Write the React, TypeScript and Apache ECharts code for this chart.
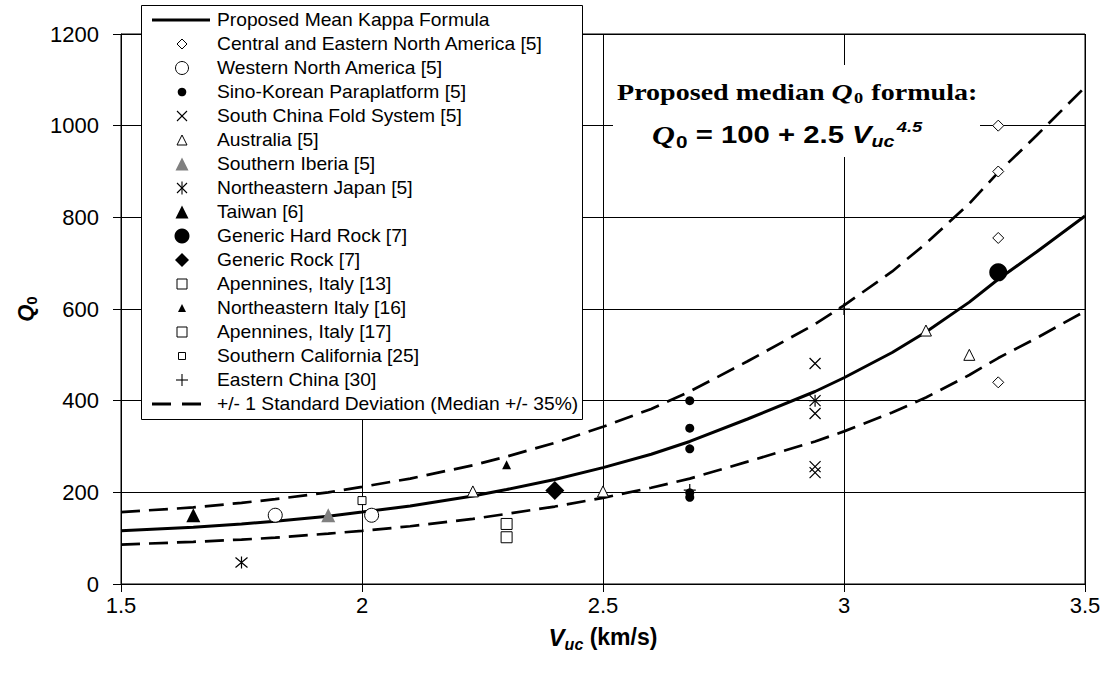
import React, { useEffect, useRef } from "react";
import * as echarts from "echarts";

// ---- data ----
const meanV = [1.5, 1.65, 1.75, 1.82, 1.93, 2.0, 2.1, 2.23, 2.3, 2.4, 2.5, 2.6, 2.68, 2.8, 2.94, 3.0, 3.1, 3.17, 3.26, 3.32, 3.4, 3.5];
const meanQ = [116, 124, 131, 137, 148, 157, 170, 192, 206, 228, 254, 283, 311, 360, 420, 450, 505, 550, 615, 665, 725, 803];
const upperQ = [157, 167, 177, 185, 200, 212, 230, 259, 278, 308, 343, 382, 420, 486, 567, 608, 682, 743, 830, 898, 979, 1084];
const lowerQ = [86, 92, 97, 101, 110, 116, 126, 142, 153, 169, 188, 210, 230, 267, 311, 333, 374, 407, 456, 493, 537, 595];

const cenaPts = [[3.32, 1000], [3.32, 900], [3.32, 755], [3.32, 440]];
const wnaPts = [[1.82, 150], [2.02, 150]];
const sinoKoreanPts = [[2.68, 400], [2.68, 340], [2.68, 295], [2.68, 199], [2.68, 189]];
const southChinaPts = [[2.94, 481], [2.94, 400], [2.94, 372], [2.94, 256], [2.94, 243]];
const australiaPts = [[2.23, 202], [2.5, 202], [3.17, 553], [3.26, 500]];
const iberiaPts = [[1.93, 150]];
const neJapanPts = [[1.75, 47]];
const taiwanPts = [[1.65, 150]];
const hardRockPts = [[3.32, 680]];
const genericRockPts = [[2.4, 204]];
const apennines13Pts = [[2.3, 131]];
const neItalyPts = [[2.3, 260]];
const apennines17Pts = [[2.3, 102]];
const soCalPts = [[2.0, 182]];
const eastChinaPts = [[2.68, 205], [2.94, 400], [3.0, 600]];

const xTickMin = 1.5;
const xTickMax = 3.5;
const yTickMax = 1200;

const N_MEAN = "Proposed Mean Kappa Formula";
const N_SD = "+/- 1 Standard Deviation (Median +/- 35%)";
const legendNames = [
  N_MEAN,
  "Central and Eastern North America [5]",
  "Western North America [5]",
  "Sino-Korean Paraplatform [5]",
  "South China Fold System [5]",
  "Australia [5]",
  "Southern Iberia [5]",
  "Northeastern Japan [5]",
  "Taiwan [6]",
  "Generic Hard Rock [7]",
  "Generic Rock [7]",
  "Apennines, Italy [13]",
  "Northeastern Italy [16]",
  "Apennines, Italy [17]",
  "Southern California [25]",
  "Eastern China [30]",
  N_SD,
];
// legend marker kind for each entry
const legendKinds = [
  "line", "diamondO", "circleO", "dot", "x", "triO", "triGray", "ast", "triBig",
  "circleBig", "diamondBig", "square", "triSmall", "square", "squareSmall", "plus", "dash",
];

const X_PATH = "path://M0,0L10,10M10,0L0,10";
const PLUS_PATH = "path://M5,0L5,10M0,5L10,5";
const AST_PATH = "path://M0,0L10,10M10,0L0,10M5,-1L5,11";

const SANS = "'Liberation Sans', Arial, sans-serif";
const SERIF = "'Liberation Serif', 'Times New Roman', serif";

function pairs(vs: number[], qs: number[]) {
  return vs.map((v, i) => [v, qs[i]]);
}

const hollow = { color: "#fff", borderColor: "#000", borderWidth: 1, opacity: 1 };
const solid = { color: "#000", opacity: 1 };
const strokeOnly = { color: "rgba(0,0,0,0)", borderColor: "#000", borderWidth: 1.2, opacity: 1 };

function scatter(name: string, data: number[][], symbol: string, size: number, itemStyle: any) {
  return { name, type: "scatter", data, symbol, symbolSize: size, itemStyle, z: 4 };
}

const LZ = 20;

function legendMarker(kind: string, cx: number, cy: number): any[] {
  const blk = { stroke: "#000", lineWidth: 1, fill: "#fff" };
  const fillBlk = { fill: "#000", stroke: null };
  const tri = (h: number, style: any) => ({
    type: "polygon",
    z: LZ + 1,
    shape: { points: [[cx, cy - h / 2], [cx + h / 2, cy + h / 2], [cx - h / 2, cy + h / 2]] },
    style,
  });
  const dia = (h: number, style: any) => ({
    type: "polygon",
    z: LZ + 1,
    shape: { points: [[cx, cy - h], [cx + h, cy], [cx, cy + h], [cx - h, cy]] },
    style,
  });
  const ln = (x1: number, y1: number, x2: number, y2: number, w: number) => ({
    type: "line",
    z: LZ + 1,
    shape: { x1, y1, x2, y2 },
    style: { stroke: "#000", lineWidth: w },
  });
  switch (kind) {
    case "line":
      return [ln(152, cy, 210, cy, 3)];
    case "dash":
      return [ln(152, cy, 171, cy, 3), ln(182, cy, 201, cy, 3)];
    case "diamondO":
      return [dia(5, blk)];
    case "circleO":
      return [{ type: "circle", z: LZ + 1, shape: { cx, cy, r: 6.5 }, style: blk }];
    case "dot":
      return [{ type: "circle", z: LZ + 1, shape: { cx, cy, r: 4.3 }, style: fillBlk }];
    case "x":
      return [ln(cx - 5, cy - 5, cx + 5, cy + 5, 1.1), ln(cx + 5, cy - 5, cx - 5, cy + 5, 1.1)];
    case "ast":
      return [
        ln(cx - 5, cy - 5, cx + 5, cy + 5, 1.1),
        ln(cx + 5, cy - 5, cx - 5, cy + 5, 1.1),
        ln(cx, cy - 6.5, cx, cy + 6.5, 1.1),
      ];
    case "plus":
      return [ln(cx - 6, cy, cx + 6, cy, 1.1), ln(cx, cy - 6, cx, cy + 6, 1.1)];
    case "triO":
      return [tri(10, blk)];
    case "triGray":
      return [tri(13, { fill: "#808080", stroke: null })];
    case "triBig":
      return [tri(13, fillBlk)];
    case "triSmall":
      return [tri(8, fillBlk)];
    case "circleBig":
      return [{ type: "circle", z: LZ + 1, shape: { cx, cy, r: 7.5 }, style: fillBlk }];
    case "diamondBig":
      return [dia(7, fillBlk)];
    case "square":
      return [{ type: "rect", z: LZ + 1, shape: { x: cx - 5, y: cy - 5, width: 10, height: 10 }, style: blk }];
    case "squareSmall":
      return [{ type: "rect", z: LZ + 1, shape: { x: cx - 3.5, y: cy - 3.5, width: 7, height: 7 }, style: blk }];
  }
  return [];
}

function buildLegend(): any[] {
  const left = 141;
  const top = 5;
  const width = 441;
  const height = 414;
  const rowStart = 20;
  const rowStep = 24;
  const cx = 182;
  const els: any[] = [
    {
      type: "rect",
      z: LZ,
      shape: { x: left + 0.5, y: top + 0.5, width, height },
      style: { fill: "#fff", stroke: "#000", lineWidth: 1 },
    },
  ];
  legendNames.forEach((name, i) => {
    const cy = rowStart + i * rowStep;
    legendMarker(legendKinds[i], cx, cy).forEach((el) => els.push(el));
    els.push({
      type: "text",
      z: LZ + 1,
      x: 217,
      y: cy,
      scaleX: 1.1,
      style: {
        text: name,
        fontFamily: SANS,
        fontSize: 17.5,
        fill: "#000",
        verticalAlign: "middle",
        align: "left",
      },
    });
  });
  return els;
}

export default function App() {
  const ref = useRef<HTMLDivElement>(null);
  useEffect(() => {
    if (!ref.current) return;
    const chart = echarts.init(ref.current, null, { renderer: "svg" });
    const option: any = {
      animation: false,
      backgroundColor: "#fff",
      grid: { left: 121, top: 34, right: 24, bottom: 91, show: true, borderColor: "#000", borderWidth: 1 },
      xAxis: {
        type: "value",
        min: xTickMin,
        max: xTickMax,
        interval: 0.5,
        axisLine: { show: true, onZero: false, lineStyle: { color: "#000", width: 1 } },
        axisTick: { show: true, inside: false, length: 8, lineStyle: { color: "#000" } },
        axisLabel: { color: "#000", fontFamily: SANS, fontSize: 22, margin: 10 },
        splitLine: { show: true, lineStyle: { color: "#000", width: 1 } },
        name: "{v|V}{s|uc}{t| (km/s)}",
        nameLocation: "middle",
        nameGap: 40,
        nameTextStyle: {
          color: "#000",
          rich: {
            v: { fontFamily: SANS, fontSize: 24, fontWeight: "bold", fontStyle: "italic", color: "#000", lineHeight: 26 },
            s: { fontFamily: SANS, fontSize: 16, fontWeight: "bold", fontStyle: "italic", color: "#000", lineHeight: 16, padding: [14, 0, 0, 0] },
            t: { fontFamily: SANS, fontSize: 23, fontWeight: "bold", color: "#000", lineHeight: 26 },
          },
        },
      },
      yAxis: {
        type: "value",
        min: 0,
        max: yTickMax,
        interval: 200,
        axisLine: { show: true, lineStyle: { color: "#000", width: 1 } },
        axisTick: { show: true, inside: false, length: 8, lineStyle: { color: "#000" } },
        axisLabel: {
          color: "#000",
          fontFamily: SANS,
          fontSize: 22,
          margin: 22,
          formatter: (v: number) => String(v),
        },
        splitLine: { show: true, lineStyle: { color: "#000", width: 1 } },
        name: "{q|Q}{s|0}",
        nameLocation: "middle",
        nameGap: 69,
        nameTextStyle: {
          color: "#000",
          rich: {
            q: { fontFamily: SANS, fontSize: 22, fontWeight: "bold", fontStyle: "italic", color: "#000", lineHeight: 24 },
            s: { fontFamily: SANS, fontSize: 15, fontWeight: "bold", color: "#000", lineHeight: 15, padding: [12, 0, 0, 0] },
          },
        },
      },
      graphic: [
        { type: "rect", z: 5, shape: { x: 613, y: 65, width: 367, height: 92 }, style: { fill: "#fff" } },
        {
          type: "text",
          z: 6,
          x: 617,
          y: 92,
          scaleX: 1.22,
          style: {
            text: "{a|Proposed median }{q|Q}{s|0}{a| formula:}",
            verticalAlign: "middle",
            fill: "#000",
            rich: {
              a: { fontFamily: SERIF, fontSize: 23, fontWeight: "bold", fill: "#000", lineHeight: 26 },
              q: { fontFamily: SERIF, fontSize: 24, fontWeight: "bold", fontStyle: "italic", fill: "#000", lineHeight: 26 },
              s: { fontFamily: SERIF, fontSize: 15, fontWeight: "bold", fill: "#000", lineHeight: 15, padding: [12, 1, 0, 1] },
            },
          },
        },
        {
          type: "text",
          z: 6,
          x: 652,
          y: 135,
          scaleX: 1.22,
          style: {
            text: "{q|Q}{s|0}{t| = 100 + 2.5 }{v|V}{vs|uc}{p|4.5}",
            verticalAlign: "middle",
            fill: "#000",
            rich: {
              q: { fontFamily: SERIF, fontSize: 26, fontWeight: "bold", fontStyle: "italic", fill: "#000", lineHeight: 28 },
              s: { fontFamily: SANS, fontSize: 17, fontWeight: "bold", fill: "#000", lineHeight: 17, padding: [14, 0, 0, 1] },
              t: { fontFamily: SANS, fontSize: 24, fontWeight: "bold", fill: "#000", lineHeight: 28 },
              v: { fontFamily: SANS, fontSize: 24, fontWeight: "bold", fontStyle: "italic", fill: "#000", lineHeight: 28 },
              vs: { fontFamily: SANS, fontSize: 16, fontWeight: "bold", fontStyle: "italic", fill: "#000", lineHeight: 16, padding: [14, 0, 0, 0] },
              p: { fontFamily: SANS, fontSize: 15, fontWeight: "bold", fontStyle: "italic", fill: "#000", lineHeight: 15, padding: [0, 0, 16, 2] },
            },
          },
        },
        ...buildLegend(),
      ],
      series: [
        {
          name: N_MEAN,
          type: "line",
          data: pairs(meanV, meanQ),
          symbol: "none",
          smooth: false,
          lineStyle: { color: "#000", width: 3 },
          itemStyle: { color: "#000" },
          z: 3,
        },
        {
          name: N_SD,
          type: "line",
          data: pairs(meanV, upperQ),
          symbol: "none",
          lineStyle: { color: "#000", width: 2.7, type: [19, 9] },
          itemStyle: { color: "#000" },
          z: 3,
        },
        {
          name: N_SD,
          type: "line",
          data: pairs(meanV, lowerQ),
          symbol: "none",
          lineStyle: { color: "#000", width: 2.7, type: [19, 9] },
          itemStyle: { color: "#000" },
          z: 3,
        },
        scatter("Central and Eastern North America [5]", cenaPts, "diamond", 11, hollow),
        scatter("Western North America [5]", wnaPts, "circle", 14, hollow),
        scatter("Sino-Korean Paraplatform [5]", sinoKoreanPts, "circle", 9, solid),
        scatter("South China Fold System [5]", southChinaPts, X_PATH, 11, strokeOnly),
        scatter("Australia [5]", australiaPts, "triangle", 11, hollow),
        scatter("Southern Iberia [5]", iberiaPts, "triangle", 14, { color: "#808080", opacity: 1 }),
        scatter("Northeastern Japan [5]", neJapanPts, AST_PATH, 12, strokeOnly),
        scatter("Taiwan [6]", taiwanPts, "triangle", 14, solid),
        scatter("Generic Hard Rock [7]", hardRockPts, "circle", 18, solid),
        scatter("Generic Rock [7]", genericRockPts, "diamond", 19, solid),
        scatter("Apennines, Italy [13]", apennines13Pts, "rect", 11, hollow),
        scatter("Northeastern Italy [16]", neItalyPts, "triangle", 9, solid),
        scatter("Apennines, Italy [17]", apennines17Pts, "rect", 11, hollow),
        scatter("Southern California [25]", soCalPts, "rect", 8, hollow),
        scatter("Eastern China [30]", eastChinaPts, PLUS_PATH, 12, strokeOnly),
      ],
    };
    chart.setOption(option);
    return () => chart.dispose();
  }, []);
  return (
    <div
      ref={ref}
      style={{ position: "fixed", left: 0, top: 0, width: 1109, height: 675, background: "#fff" }}
    />
  );
}
